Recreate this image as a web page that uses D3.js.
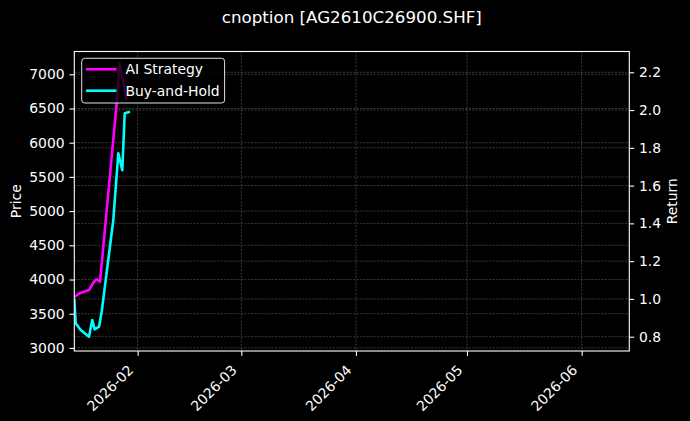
<!DOCTYPE html>
<html><head><meta charset="utf-8">
<script src="https://cdn.jsdelivr.net/npm/d3@7"></script>
<style>body{margin:0;background:#000;} svg{display:block;font-family:"DejaVu Sans",sans-serif;}</style>
</head><body><svg id="c" width="690" height="421"></svg>
<script>
const chartTitle = "cnoption [AG2610C26900.SHF]";
const seriesNames = ["AI Strategy", "Buy-and-Hold"];
const aiDates = ["2026-01-14T21:00","2026-01-16T03:30","2026-01-18T20:15","2026-01-20T04:40","2026-01-20T22:10","2026-01-21T19:50","2026-01-26T08:00","2026-01-27T02:20","2026-01-29T00:50"];
const aiReturn = [1.01, 1.029, 1.047, 1.091, 1.104, 1.091, 2.037, 2.249, 2.053];
const bhDates = ["2026-01-14T21:00","2026-01-15T06:05","2026-01-16T14:30","2026-01-18T20:15","2026-01-19T17:35","2026-01-20T09:10","2026-01-21T13:20","2026-01-22T06:35","2026-01-25T10:00","2026-01-26T18:25","2026-01-27T20:20","2026-01-28T11:55","2026-01-29T22:10"];
const bhReturn = [1.0, 0.871, 0.835, 0.800, 0.888, 0.839, 0.853, 0.931, 1.418, 1.771, 1.682, 1.983, 1.991];
const priceDates = bhDates;
const priceValues = [3717, 3360, 3262, 3164, 3408, 3272, 3310, 3525, 4870, 5845, 5601, 6430, 6454];
const xLimits = ["2026-01-14T21:00","2026-06-13T21:00"];
const priceLimits = [2955, 7333];
const returnLimits = [0.7243, 2.310];
const priceTicks = [3000, 3500, 4000, 4500, 5000, 5500, 6000, 6500, 7000];
const returnTicks = [0.8, 1.0, 1.2, 1.4, 1.6, 1.8, 2.0, 2.2];

const parse = d3.timeParse("%Y-%m-%dT%H:%M");
const svg = d3.select("#c");
const W = 690, H = 421;
const m = {l: 74.3, r: 629.3, t: 51.5, b: 351};
const fs = 13.9;

svg.append("rect").attr("width", W).attr("height", H).attr("fill", "#000");

const x = d3.scaleTime().domain(xLimits.map(parse)).range([m.l, m.r]);
const yP = d3.scaleLinear().domain(priceLimits).range([m.b, m.t]);
const yR = d3.scaleLinear().domain(returnLimits).range([m.b, m.t]);

const monthTicks = d3.timeMonth.every(1).range(x.domain()[0], x.domain()[1]);

// grid
const grid = svg.append("g").attr("stroke", "#5a5a5a").attr("stroke-width", 0.6).attr("stroke-dasharray", "2.2,1.2");
monthTicks.forEach(d => grid.append("line").attr("x1", x(d)).attr("x2", x(d)).attr("y1", m.t).attr("y2", m.b));
priceTicks.forEach(v => grid.append("line").attr("x1", m.l).attr("x2", m.r).attr("y1", yP(v)).attr("y2", yP(v)));
returnTicks.forEach(v => grid.append("line").attr("x1", m.l).attr("x2", m.r).attr("y1", yR(v)).attr("y2", yR(v)));

svg.append("clipPath").attr("id", "clip").append("rect")
  .attr("x", m.l).attr("y", m.t).attr("width", m.r - m.l).attr("height", m.b - m.t);

const plot = svg.append("g").attr("clip-path", "url(#clip)");
const priceLine = d3.line().x((d, i) => x(parse(priceDates[i]))).y(d => yP(d));
plot.append("path").datum(priceValues).attr("d", priceLine)
  .attr("fill", "none").attr("stroke", "#b00000").attr("stroke-opacity", 0.35).attr("stroke-width", 1.2);

const bhLine = d3.line().x((d, i) => x(parse(bhDates[i]))).y(d => yR(d));
const aiLine = d3.line().x((d, i) => x(parse(aiDates[i]))).y(d => yR(d));
plot.append("path").datum(aiReturn).attr("d", aiLine)
  .attr("fill", "none").attr("stroke", "#ff00ff").attr("stroke-width", 2.6).attr("stroke-linejoin", "round");
plot.append("path").datum(bhReturn).attr("d", bhLine)
  .attr("fill", "none").attr("stroke", "#00ffff").attr("stroke-width", 2.6).attr("stroke-linejoin", "round");

// axes
const tk = 4.86;
const axL = svg.append("g").attr("transform", `translate(${m.l},0)`)
  .call(d3.axisLeft(yP).tickValues(priceTicks).tickFormat(d3.format("d")).tickSize(tk).tickPadding(tk));
const axR = svg.append("g").attr("transform", `translate(${m.r},0)`)
  .call(d3.axisRight(yR).tickValues(returnTicks).tickFormat(d3.format(".1f")).tickSize(tk).tickPadding(tk));
const axB = svg.append("g").attr("transform", `translate(0,${m.b})`)
  .call(d3.axisBottom(x).tickValues(monthTicks).tickFormat(d3.timeFormat("%Y-%m")).tickSize(tk));
[axL, axR, axB].forEach(a => {
  a.select(".domain").remove();
  a.selectAll("line").attr("stroke", "#fff").attr("stroke-width", 1.1);
  a.selectAll("text").attr("fill", "#fff").attr("font-size", fs).attr("font-family", "DejaVu Sans");
});
axB.selectAll("text").attr("text-anchor", "end").attr("dy", null).attr("y", 0)
  .attr("transform", "translate(-4,20) rotate(-45)");

// spines
svg.append("rect").attr("x", m.l).attr("y", m.t).attr("width", m.r - m.l).attr("height", m.b - m.t)
  .attr("fill", "none").attr("stroke", "#fff").attr("stroke-width", 1.1);

// labels
svg.append("text").attr("x", (m.l + m.r) / 2).attr("y", 23).attr("text-anchor", "middle")
  .attr("fill", "#fff").attr("font-size", 16.7).text(chartTitle);
svg.append("text").attr("transform", `translate(21,${(m.t + m.b) / 2}) rotate(-90)`).attr("text-anchor", "middle")
  .attr("fill", "#fff").attr("font-size", fs).text("Price");
svg.append("text").attr("transform", `translate(677,${(m.t + m.b) / 2}) rotate(-90)`).attr("text-anchor", "middle")
  .attr("fill", "#fff").attr("font-size", fs).text("Return");

// legend
const lg = svg.append("g");
const lx = 81.7, ly = 58.3, rowH = 21.4;
const box = lg.append("rect").attr("x", lx).attr("y", ly).attr("height", 44.7).attr("rx", 3)
  .attr("fill", "#000").attr("fill-opacity", 0.8).attr("stroke", "#e0e0e0").attr("stroke-width", 1);
const colors = ["#ff00ff", "#00ffff"];
let maxW = 0;
seriesNames.forEach((n, i) => {
  const cy = 69.3 + i * rowH;
  lg.append("line").attr("x1", 86).attr("x2", 116.5).attr("y1", cy).attr("y2", cy)
    .attr("stroke", colors[i]).attr("stroke-width", 2.6);
  const t = lg.append("text").attr("x", 125.5).attr("y", cy).attr("dy", "0.35em")
    .attr("fill", "#fff").attr("font-size", fs).text(n);
  maxW = Math.max(maxW, t.node().getComputedTextLength());
});
box.attr("width", 125.5 + maxW + 5 - lx);
</script></body></html>
